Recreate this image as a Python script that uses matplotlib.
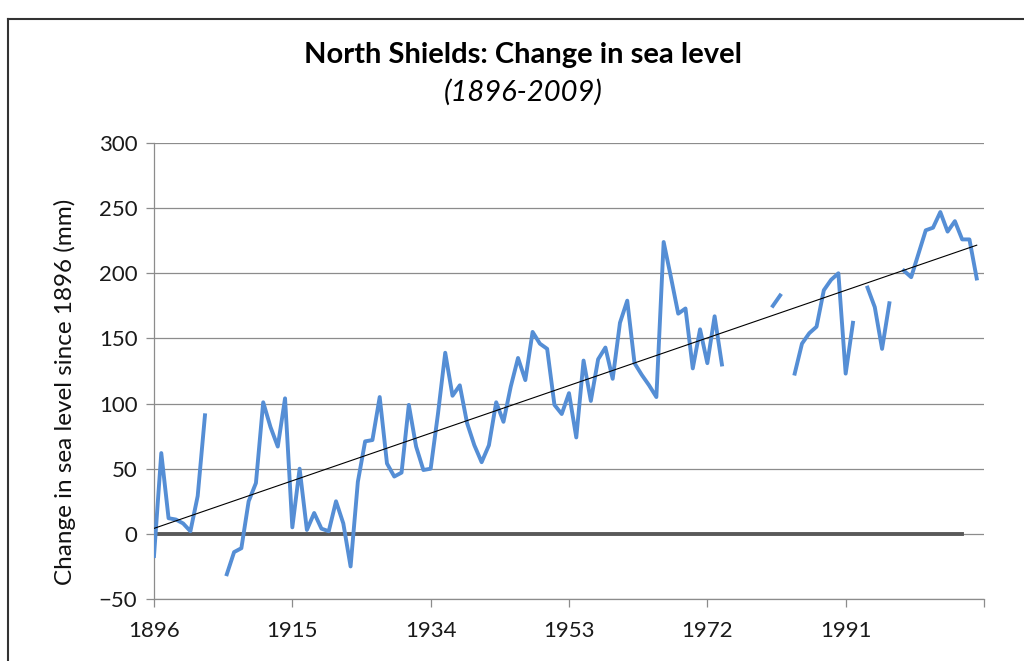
import numpy as np
import matplotlib
matplotlib.use("Agg")
import matplotlib.pyplot as plt
from matplotlib.lines import Line2D

plt.rcParams['font.family'] = ['Lato', 'DejaVu Sans']

# annual change in sea level since 1896 (mm), NaN = no record
first_year = 1896
change_mm = [
    -17, 62, 12, 11, 8, 2, 29, 91, np.nan, np.nan,          # 1896-1905
    -31, -14, -11, 25, 39, 101, 82, 67, 104, 5,              # 1906-1915
    50, 3, 16, 4, 2, 25, 8, -25, 40, 71,                     # 1916-1925
    72, 105, 54, 44, 47, 99, 67, 49, 50, 92,                 # 1926-1935
    139, 106, 114, 85, 68, 55, 68, 101, 86, 113,             # 1936-1945
    135, 118, 155, 146, 142, 99, 92, 108, 74, 133,           # 1946-1955
    102, 134, 143, 119, 162, 179, 131, 122, 114, 105,        # 1956-1965
    224, 197, 169, 173, 127, 157, 131, 167, 130, np.nan,     # 1966-1975
    np.nan, np.nan, np.nan, np.nan, np.nan, 175, 183, np.nan, 123, 146,  # 1976-1985
    154, 159, 187, 195, 200, 123, 162, np.nan, 189, 174,     # 1986-1995
    142, 177, np.nan, 202, 197, 215, 233, 235, 247, 232,     # 1996-2005
    240, 226, 226, 196,                                      # 2006-2009
]
years = np.arange(first_year, first_year + len(change_mm))
change_mm = np.array(change_mm, dtype=float)

# zero reference series (shorter than the data)
zero_years = np.arange(1896, 2008)
zero_vals = np.zeros(len(zero_years))

tick_years = [1896, 1915, 1934, 1953, 1972, 1991, 2010]
tick_labels = ["1896", "1915", "1934", "1953", "1972", "1991", ""]

# %% linear trend
ok = ~np.isnan(change_mm)
slope, icept = np.polyfit(years[ok], change_mm[ok], 1)
trend = slope * years + icept

# %% plot
fig = plt.figure(figsize=(10.24, 6.61), dpi=100)
ax = fig.add_axes([154 / 1024, 1 - 599 / 661, (984 - 154) / 1024, (599 - 143) / 661])

grey = "#8c8c8c"
ax.plot(zero_years, zero_vals, color="#595959", lw=2.8, zorder=3)
ax.plot(years, change_mm, color="#558ED5", lw=2.8, zorder=4)
ax.plot(years, trend, color="black", lw=0.8, zorder=5)

ax.set_xlim(1896, 2010)
ax.set_ylim(-50, 300)
ax.set_yticks(np.arange(-50, 301, 50))
ax.set_xticks(tick_years)
ax.set_xticklabels(tick_labels)
ax.yaxis.grid(True, color=grey, lw=0.9)
ax.set_axisbelow(True)
for side in ["top", "right"]:
    ax.spines[side].set_visible(False)
for side in ["left", "bottom"]:
    ax.spines[side].set_color(grey)
    ax.spines[side].set_linewidth(0.9)
ax.tick_params(axis="both", colors=grey, width=0.9, length=6, labelsize=16,
               labelcolor="#1a1a1a")
ax.tick_params(axis="x", pad=10)
ax.tick_params(axis="y", pad=6)
ax.set_ylabel("Change in sea level since 1896 (mm)", fontsize=17.5, color="#111111")
ax.yaxis.set_label_coords(-0.094, 0.455)

fig.text(523 / 1024, 1 - 55 / 661, "North Shields: Change in sea level",
         ha="center", va="center", fontsize=21, fontweight="bold")
fig.text(523 / 1024, 1 - 92 / 661, "(1896-2009)", ha="center", va="center",
         fontsize=21, style="italic")

# outer frame
fig.add_artist(Line2D([8 / 1024, 8 / 1024], [-0.05, 1 - 19 / 661],
                      transform=fig.transFigure, color="#333333", lw=1.5))
fig.add_artist(Line2D([8 / 1024, 1.05], [1 - 19 / 661, 1 - 19 / 661],
                      transform=fig.transFigure, color="#333333", lw=1.5))

fig.savefig("out.png", dpi=100)
